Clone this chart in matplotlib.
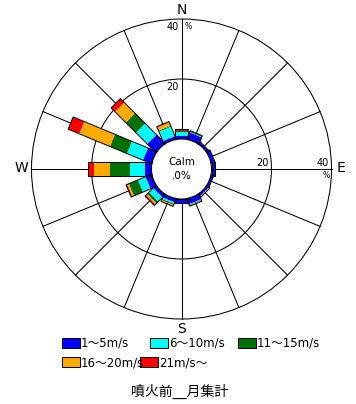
import numpy as np
import matplotlib
matplotlib.use('Agg')
import matplotlib.pyplot as plt
from matplotlib.patches import Polygon, Circle, Rectangle

plt.rcParams['font.family'] = ['DejaVu Sans', 'Noto Sans CJK JP']

# 16 directions, clockwise from north
directions = ['N', 'NNE', 'NE', 'ENE', 'E', 'ESE', 'SE', 'SSE',
              'S', 'SSW', 'SW', 'WSW', 'W', 'WNW', 'NW', 'NNW']
speed_labels = ['1～5m/s', '6～10m/s', '11～15m/s', '16～20m/s', '21m/s～']
speed_colors = ['#0000FF', '#00FFFF', '#007000', '#FFAA00', '#FF0000']

# frequency (%) per speed class
s_1_5 = [1.0, 2.3, 0.7, 1.2, 1.2, 0.8, 0.8, 1.8, 1.3, 1.2, 1.2, 2.1, 2.2, 3.0, 4.0, 1.0]
s_6_10 = [1.4, 0.2, 0.1, 0.0, 0.0, 0.0, 0.1, 0.2, 0.0, 0.5, 2.0, 2.7, 5.1, 5.8, 5.3, 3.4]
s_11_15 = [0.3, 0.4, 0.0, 0.0, 0.0, 0.0, 0.0, 0.2, 0.0, 0.4, 0.8, 3.3, 6.7, 6.1, 4.8, 0.3]
s_16_20 = [0.0, 0.0, 0.0, 0.0, 0.0, 0.0, 0.3, 0.3, 0.0, 0.3, 0.5, 0.6, 5.3, 11.1, 5.1, 1.2]
s_21 = [0.5, 0.0, 0.0, 0.0, 0.0, 0.0, 0.0, 0.0, 0.0, 0.2, 0.5, 0.4, 2.0, 4.0, 1.8, 0.3]
calm_label = '.0%'
rings = [20, 40]

W, H = 356, 404
cx, cy = 181.5, 169.0   # rose centre in pixels
k = 3.0                 # pixels per percent
r0 = 10.0               # calm circle radius (percent units)
bar_w = 4.4

fig = plt.figure(figsize=(W / 100, H / 100), dpi=100)
ax = fig.add_axes([0, 0, 1, 1])
ax.set_xlim(-cx / k, (W - cx) / k)
ax.set_ylim(-(H - cy) / k, cy / k)
ax.axis('off')

lw = 0.75
rmax = r0 + rings[-1]
# rings
for r in rings:
    ax.add_patch(Circle((0, 0), r0 + r, fill=False, ec='black', lw=lw, zorder=1))
# spokes
for i in range(16):
    th = np.deg2rad(i * 22.5)
    ux, uy = np.sin(th), np.cos(th)
    ax.plot([r0 * ux, rmax * ux], [r0 * uy, rmax * uy], color='black', lw=lw, zorder=1)

# stacked bars
series = [s_1_5, s_6_10, s_11_15, s_16_20, s_21]
for i in range(16):
    th = np.deg2rad(i * 22.5)
    u = np.array([np.sin(th), np.cos(th)])
    v = np.array([np.cos(th), -np.sin(th)]) * bar_w / 2
    start = r0
    for vals, col in zip(series, speed_colors):
        val = vals[i]
        if val <= 0:
            continue
        end = start + val
        pts = [u * start + v, u * end + v, u * end - v, u * start - v]
        ax.add_patch(Polygon(pts, closed=True, fc=col, ec='none', zorder=2))
        start = end
    pts = [u * r0 + v, u * start + v, u * start - v, u * r0 - v]
    ax.add_patch(Polygon(pts, closed=True, fill=False, ec='black', lw=0.7, zorder=3))

# calm circle
ax.add_patch(Circle((0, 0), r0, fc='white', ec='black', lw=lw, zorder=4))
ax.text(0, 2.3, 'Calm', ha='center', va='center', fontsize=7.5, zorder=5)
ax.text(0, -2.4, calm_label, ha='center', va='center', fontsize=7.5, zorder=5)

# ring labels
for r in rings:
    ax.text(-0.8, r0 + r - 1.0, str(r), ha='right', va='top', fontsize=7, zorder=5)
    ax.text(r0 + r - 0.8, 0.5, str(r), ha='right', va='bottom', fontsize=7, zorder=5)
ax.text(1.0, r0 + rings[-1] - 1.0, '%', ha='left', va='top', fontsize=5.5, zorder=5)
ax.text(r0 + rings[-1] - 0.5, -0.8, '%', ha='right', va='top', fontsize=5.5, zorder=5)

# compass labels
ax.text(0.2, rmax + 3.0, 'N', ha='center', va='center', fontsize=10)
ax.text(rmax + 3.0, 0.3, 'E', ha='center', va='center', fontsize=10)
ax.text(-rmax - 3.5, 0.3, 'W', ha='center', va='center', fontsize=10)
ax.text(0, -rmax - 3.3, 'S', ha='center', va='center', fontsize=10)

# legend and caption in pixel coordinates
lax = fig.add_axes([0, 0, 1, 1])
lax.set_xlim(0, W)
lax.set_ylim(H, 0)
lax.axis('off')
legend_pos = [(62, 338), (150, 338), (238, 338), (62, 357), (140, 357)]
for (x, y), lab, col in zip(legend_pos, speed_labels, speed_colors):
    lax.add_patch(Rectangle((x, y), 18, 10, fc=col, ec='black', lw=0.7))
    lax.text(x + 19, y + 5.5, lab, ha='left', va='center', fontsize=8.5)
lax.text(180, 391, '噴火前__月集計', ha='center', va='center', fontsize=10)

fig.savefig('out.png', dpi=100)
